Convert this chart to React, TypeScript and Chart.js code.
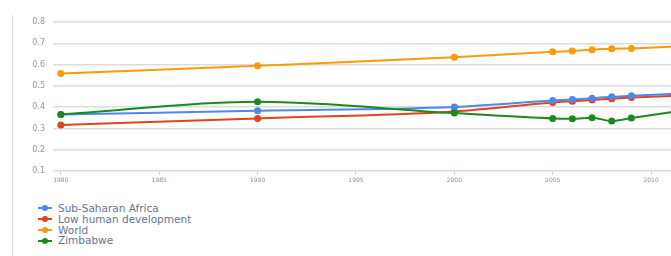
import React, { useEffect, useRef } from "react";
import { Chart, registerables } from "chart.js";

Chart.register(...registerables);

const years = [1980, 1990, 2000, 2005, 2006, 2007, 2008, 2009, 2012];
const xTickYears = [1980, 1985, 1990, 1995, 2000, 2005, 2010];
const yTicks = [0.1, 0.2, 0.3, 0.4, 0.5, 0.6, 0.7, 0.8];

const seriesNames = ["Sub-Saharan Africa", "Low human development", "World", "Zimbabwe"];
const seriesColors = ["#4f87ea", "#e0441c", "#fb9a0a", "#1a8a1f"];

const subSaharanAfrica = [0.365, 0.383, 0.401, 0.431, 0.436, 0.442, 0.449, 0.453, 0.467];
const lowHumanDevelopment = [0.316, 0.347, 0.38, 0.422, 0.428, 0.434, 0.44, 0.445, 0.456];
const world = [0.558, 0.594, 0.634, 0.66, 0.664, 0.67, 0.674, 0.676, 0.687];
const zimbabwe = [0.366, 0.425, 0.372, 0.347, 0.345, 0.35, 0.335, 0.349, 0.39];

const seriesValues = [subSaharanAfrica, lowHumanDevelopment, world, zimbabwe];

const FONT = "'DejaVu Sans', sans-serif";

export default function App() {
  const canvasRef = useRef<HTMLCanvasElement | null>(null);

  useEffect(() => {
    if (!canvasRef.current) return;
    const chart = new Chart(canvasRef.current, {
      type: "line",
      data: {
        datasets: seriesNames.map((name, i) => ({
          label: name,
          data: years.map((y, j) => ({ x: y, y: seriesValues[i][j] })),
          borderColor: seriesColors[i],
          backgroundColor: seriesColors[i],
          pointBackgroundColor: seriesColors[i],
          pointBorderColor: seriesColors[i],
          pointRadius: 3.5,
          pointBorderWidth: 0,
          borderWidth: 2,
          cubicInterpolationMode: "monotone" as const,
          fill: false,
          order: i === 3 ? 0 : i + 1,
        })),
      },
      options: {
        animation: false,
        responsive: false,
        maintainAspectRatio: false,
        layout: { padding: { top: 22, right: 0, bottom: 0, left: 0 } },
        plugins: {
          legend: { display: false },
          tooltip: { enabled: false },
        },
        scales: {
          x: {
            type: "linear",
            min: 1979.6,
            max: 2013.3,
            afterBuildTicks: (scale: any) => {
              scale.ticks = xTickYears.map((v) => ({ value: v }));
            },
            afterFit: (scale: any) => {
              scale.height = 25;
            },
            ticks: {
              callback: (v: any) => String(v),
              color: "#8a8f99",
              font: { family: FONT, size: 6 },
              padding: 2,
              maxRotation: 0,
              autoSkip: false,
            },
            grid: {
              display: true,
              drawOnChartArea: false,
              drawTicks: true,
              tickLength: 4,
              color: "#c9d5ea",
            },
            border: { display: false },
          },
          y: {
            type: "linear",
            min: 0.1,
            max: 0.8,
            afterBuildTicks: (scale: any) => {
              scale.ticks = yTicks.map((v) => ({ value: v }));
            },
            afterFit: (scale: any) => {
              scale.width = 53;
            },
            ticks: {
              callback: (v: any) => Number(v).toFixed(1),
              color: "#8f96a6",
              font: { family: FONT, size: 8 },
              padding: 8,
            },
            grid: {
              drawTicks: false,
              lineWidth: 1.5,
              color: (ctx: any) =>
                ctx.tick && Math.abs(ctx.tick.value - 0.1) < 1e-6 ? "#cdd8ea" : "#dcdcdc",
            },
            border: { display: false },
          },
        },
      },
    });
    return () => chart.destroy();
  }, []);

  return (
    <div
      style={{
        position: "absolute",
        left: 0,
        top: 0,
        width: 671,
        height: 256,
        overflow: "hidden",
        background: "#ffffff",
      }}
    >
      <div
        style={{
          position: "absolute",
          left: 12,
          top: 15,
          width: 1,
          height: 241,
          background: "#dddddd",
        }}
      />
      <canvas
        ref={canvasRef}
        width={720}
        height={196}
        style={{ position: "absolute", left: 0, top: 0, width: 720, height: 196 }}
      />
      <div
        style={{
          position: "absolute",
          left: 38,
          top: 203,
          fontFamily: FONT,
          fontSize: 10.5,
          lineHeight: "10.8px",
          color: "#66738f",
        }}
      >
        {seriesNames.map((name, i) => (
          <div key={name} style={{ display: "flex", alignItems: "center", height: 10.8 }}>
            <span
              style={{
                position: "relative",
                display: "inline-block",
                width: 14,
                height: 8,
                marginRight: 6,
              }}
            >
              <span
                style={{
                  position: "absolute",
                  left: 0,
                  top: 3,
                  width: 14,
                  height: 2,
                  background: seriesColors[i],
                }}
              />
              <span
                style={{
                  position: "absolute",
                  left: 4,
                  top: 1,
                  width: 6,
                  height: 6,
                  borderRadius: 3,
                  background: seriesColors[i],
                }}
              />
            </span>
            <span>{name}</span>
          </div>
        ))}
      </div>
    </div>
  );
}
